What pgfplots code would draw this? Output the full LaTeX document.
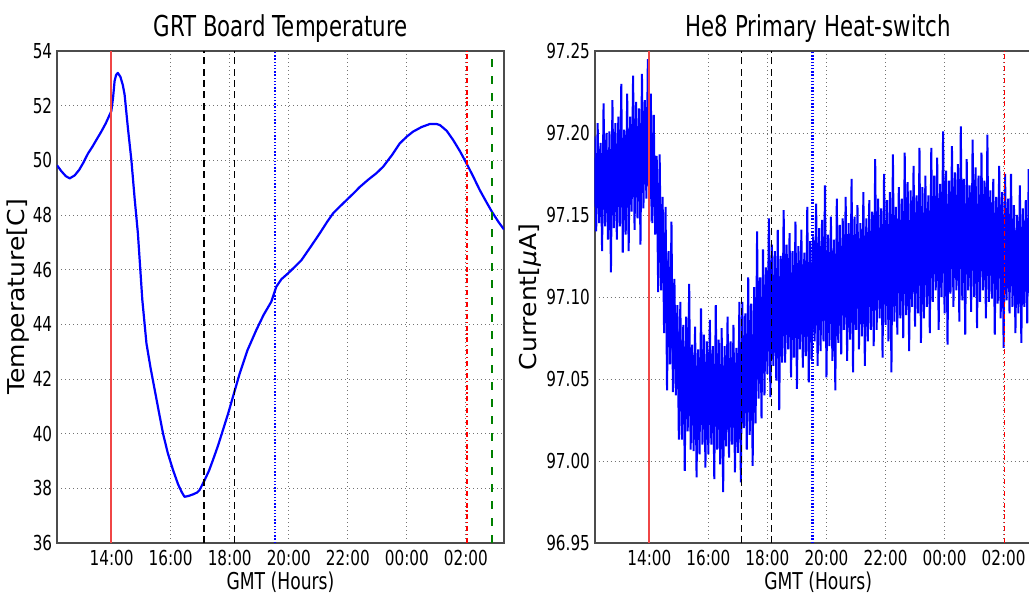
\documentclass[border=0pt]{standalone}
\usepackage{fontspec}
\setmainfont[FakeStretch=0.74]{DejaVu Sans}
\newfontfamily\ylabfont[FakeStretch=1.08]{DejaVu Sans}
\usepackage{pgfplots}
\pgfplotsset{compat=1.18}

\definecolor{eventgreen}{RGB}{0,128,0}
\definecolor{eventred}{RGB}{240,70,70}

\pgfplotsset{
  panel/.style={
    set layers,
    scale only axis, width=223.5pt, height=246pt,
    xmin=12.15, xmax=27.29,
    xtick={14,16,18,20,22,24,26},
    xticklabels={14:00,16:00,18:00,20:00,22:00,00:00,02:00},
    grid=major,
    major grid style={draw=black!55, line width=0.5pt, dash pattern=on 0.6pt off 1.4pt},
    major tick length=0pt,
    axis line style={draw=black!70, line width=1pt},
    /pgf/number format/assume math mode=true,
    tick label style={font=\fontsize{10.3}{12}\selectfont, text=black},
    xticklabel style={inner sep=0pt, anchor=north, yshift=-3.5pt},
    yticklabel style={inner sep=0pt, anchor=east, xshift=-2.2pt},
    every axis title/.style={at={(axis description cs:0.5,1.0285)}, anchor=base,
                 inner sep=0pt, font=\fontsize{14.4}{17}\selectfont},
    xlabel style={at={(axis description cs:0.5,-0.0955)}, anchor=base, inner sep=0pt,
                  font=\fontsize{11.6}{14}\selectfont},
    ylabel style={anchor=center, inner sep=0pt, font=\ylabfont\fontsize{11.6}{14}\selectfont},
    xlabel={GMT (Hours)},
  },
  black event/.style={draw=black, line width=0.55pt, dash pattern=on 3.5pt off 2.2pt, forget plot},
  red event/.style={draw=eventred, line width=0.9pt, forget plot, on layer=axis foreground},
}

\begin{document}
\begin{tikzpicture}

% ---------------- GRT board temperature ----------------
\begin{axis}[panel, at={(28.5pt,26pt)}, anchor=south west,
  ymin=36, ymax=54, ytick={36,38,...,54},
  title={GRT Board Temperature},
  ylabel={Temperature[C]},
  ylabel style={at={(axis description cs:-0.0861,0.5)}},
]
\addplot[blue, line width=1.1pt, line join=round] coordinates {
 (12.15,49.82) (12.3,49.6) (12.45,49.42) (12.58,49.34) (12.75,49.45)
 (12.9,49.65) (13.03,49.89) (13.2,50.25) (13.35,50.5) (13.48,50.74)
 (13.65,51.05) (13.8,51.35) (13.99,51.8) (14.05,52.3) (14.1,52.9)
 (14.15,53.12) (14.21,53.2) (14.3,53.05) (14.38,52.75) (14.44,52.4)
 (14.55,51.2) (14.67,50.0) (14.78,48.6) (14.89,47.33) (15.04,44.89)
 (15.18,43.3) (15.32,42.4) (15.46,41.6) (15.6,40.8) (15.74,40.01)
 (15.9,39.3) (16.08,38.67) (16.25,38.15) (16.38,37.85) (16.47,37.69)
 (16.6,37.72) (16.76,37.78) (16.9,37.85) (16.98,37.94) (17.15,38.3)
 (17.3,38.65) (17.43,39.03) (17.6,39.55) (17.77,40.13) (17.95,40.75)
 (18.11,41.35) (18.34,42.21) (18.6,43.05) (18.9,43.79) (19.15,44.35)
 (19.41,44.83) (19.58,45.38) (19.75,45.65) (19.98,45.87) (20.2,46.1)
 (20.43,46.35) (20.75,46.85) (21.05,47.33) (21.3,47.75) (21.5,48.06)
 (21.75,48.33) (21.96,48.55) (22.2,48.8) (22.41,49.03) (22.7,49.3)
 (22.97,49.53) (23.2,49.77) (23.5,50.2) (23.76,50.62) (24.0,50.87)
 (24.21,51.05) (24.5,51.22) (24.78,51.33) (25.0,51.33) (25.12,51.29)
 (25.35,51.08) (25.57,50.74) (25.8,50.33) (26.02,49.89) (26.25,49.4)
 (26.47,48.91) (26.68,48.5) (26.88,48.12) (27.1,47.75) (27.29,47.47)
};
% event markers
\addplot[black event] coordinates {(17.13,36) (17.13,54)};
\addplot[black event] coordinates {(18.15,36) (18.15,54)};
\addplot[draw=blue, line width=1.1pt, dash pattern=on 0.7pt off 0.9pt, forget plot] coordinates {(19.53,36) (19.53,54)};
\addplot[draw=red, line width=0.9pt, dash pattern=on 2.5pt off 1.4pt on 0.6pt off 1.4pt, forget plot] coordinates {(26.03,36) (26.03,54)};
\addplot[draw=eventgreen, line width=1pt, dash pattern=on 4pt off 4.5pt, forget plot] coordinates {(26.88,36) (26.88,54)};
\addplot[red event] coordinates {(13.99,36) (13.99,54)};
\end{axis}

% ---------------- He8 primary heat-switch current ----------------
\begin{axis}[panel, at={(297.35pt,26pt)}, anchor=south west,
  ymin=96.95, ymax=97.25, ytick={96.95,97.00,...,97.26},
  yticklabel style={/pgf/number format/.cd, fixed, fixed zerofill, precision=2},
  title={He8 Primary Heat-switch},
  ylabel={Current[{\itshape μ}A]},
  ylabel style={at={(axis description cs:-0.1445,0.5)}},
]
% dense core of the noisy trace
\addplot[fill=blue, draw=none] coordinates {
 (12.15,97.185) (12.6,97.185) (13.0,97.189) (13.4,97.200) (13.8,97.208)
 (14.05,97.208) (14.2,97.181) (14.4,97.155) (14.6,97.124) (14.8,97.098)
 (15.0,97.078) (15.25,97.066) (15.6,97.058) (17.05,97.058) (17.15,97.076)
 (17.5,97.076) (17.65,97.091) (17.85,97.101) (18.0,97.107) (18.3,97.112)
 (19.0,97.116) (20.0,97.124) (21.0,97.132) (22.0,97.140) (23.0,97.148)
 (24.0,97.157) (25.2,97.157) (25.9,97.149) (26.5,97.139) (27.3,97.139)
 (27.3,97.105) (26.5,97.105) (25.9,97.111) (25.2,97.117) (24.0,97.117)
 (23.0,97.108) (22.0,97.100) (21.0,97.093) (20.0,97.086) (19.0,97.080)
 (18.3,97.074) (18.0,97.069) (17.85,97.059) (17.65,97.049) (17.5,97.034)
 (17.15,97.034) (17.05,97.022) (15.6,97.022) (15.25,97.030) (15.0,97.042)
 (14.8,97.062) (14.6,97.086) (14.4,97.119) (14.2,97.148) (14.05,97.172)
 (13.8,97.172) (13.4,97.164) (13.0,97.155) (12.6,97.155) (12.15,97.155)
};
% excursions of the trace
\addplot[blue, line width=1pt] table {
x y
12.15 97.198
12.20 97.140
12.25 97.206
12.30 97.145
12.35 97.194
12.40 97.128
12.45 97.218
12.50 97.143
12.55 97.200
12.60 97.135
12.65 97.201
12.70 97.115
12.75 97.220
12.80 97.142
12.85 97.206
12.90 97.135
12.95 97.210
13.00 97.143
13.05 97.230
13.10 97.127
13.15 97.202
13.20 97.138
13.25 97.224
13.30 97.128
13.35 97.210
13.40 97.152
13.45 97.235
13.50 97.141
13.55 97.219
13.60 97.148
13.65 97.215
13.70 97.132
13.75 97.236
13.80 97.154
13.85 97.220
13.90 97.160
13.95 97.245
14.00 97.146
14.05 97.224
14.10 97.145
14.15 97.211
14.20 97.138
14.25 97.186
14.30 97.103
14.35 97.187
14.40 97.104
14.45 97.161
14.50 97.078
14.55 97.155
14.60 97.043
14.65 97.128
14.70 97.059
14.75 97.146
14.80 97.042
14.85 97.111
14.90 97.040
14.95 97.095
15.00 97.013
15.05 97.097
15.10 97.013
15.15 97.083
15.20 96.994
15.25 97.088
15.30 97.018
15.35 97.108
15.40 97.007
15.45 97.071
15.50 97.006
15.55 97.082
15.60 96.990
15.65 97.068
15.70 97.004
15.75 97.093
15.80 97.010
15.85 97.077
15.90 96.996
15.95 97.073
16.00 97.004
16.05 97.086
16.10 97.010
16.15 97.070
16.20 96.989
16.25 97.095
16.30 97.007
16.35 97.074
16.40 96.998
16.45 97.081
16.50 96.981
16.55 97.070
16.60 97.009
16.65 97.088
16.70 97.002
16.75 97.073
16.80 97.010
16.85 97.083
16.90 96.993
16.95 97.069
17.00 97.005
17.05 97.097
17.10 96.987
17.15 97.097
17.20 97.020
17.25 97.090
17.30 97.007
17.35 97.112
17.40 97.016
17.45 97.096
17.50 96.997
17.55 97.106
17.60 97.023
17.65 97.140
17.70 97.038
17.75 97.112
17.80 97.026
17.85 97.129
17.90 97.040
17.95 97.118
18.00 97.053
18.05 97.148
18.10 97.039
18.15 97.132
18.20 97.058
18.25 97.128
18.30 97.049
18.35 97.141
18.40 97.031
18.45 97.125
18.50 97.060
18.55 97.153
18.60 97.060
18.65 97.132
18.70 97.068
18.75 97.139
18.80 97.051
18.85 97.128
18.90 97.063
18.95 97.146
19.00 97.044
19.05 97.131
19.10 97.068
19.15 97.141
19.20 97.057
19.25 97.127
19.30 97.064
19.35 97.155
19.40 97.048
19.45 97.134
19.50 97.062
19.55 97.137
19.60 97.073
19.65 97.157
19.70 97.058
19.75 97.142
19.80 97.067
19.85 97.147
19.90 97.073
19.95 97.168
20.00 97.051
20.05 97.138
20.10 97.070
20.15 97.149
20.20 97.061
20.25 97.135
20.30 97.043
20.35 97.160
20.40 97.072
20.45 97.144
20.50 97.065
20.55 97.148
20.60 97.080
20.65 97.161
20.70 97.061
20.75 97.145
20.80 97.074
20.85 97.172
20.90 97.054
20.95 97.149
21.00 97.080
21.05 97.156
21.10 97.068
21.15 97.145
21.20 97.076
21.25 97.164
21.30 97.058
21.35 97.148
21.40 97.073
21.45 97.159
21.50 97.080
21.55 97.152
21.60 97.070
21.65 97.184
21.70 97.080
21.75 97.160
21.80 97.087
21.85 97.154
21.90 97.063
21.95 97.175
22.00 97.083
22.05 97.159
22.10 97.073
22.15 97.164
22.20 97.054
22.25 97.187
22.30 97.085
22.35 97.155
22.40 97.077
22.45 97.167
22.50 97.087
22.55 97.160
22.60 97.075
22.65 97.188
22.70 97.089
22.75 97.170
22.80 97.067
22.85 97.165
22.90 97.094
22.95 97.180
23.00 97.082
23.05 97.162
23.10 97.090
23.15 97.191
23.20 97.072
23.25 97.167
23.30 97.087
23.35 97.174
23.40 97.094
23.45 97.162
23.50 97.078
23.55 97.191
23.60 97.097
23.65 97.174
23.70 97.104
23.75 97.185
23.80 97.080
23.85 97.169
23.90 97.100
23.95 97.201
24.00 97.090
24.05 97.177
24.10 97.071
24.15 97.171
24.20 97.102
24.25 97.192
24.30 97.094
24.35 97.176
24.40 97.104
24.45 97.181
24.50 97.085
24.55 97.204
24.60 97.098
24.65 97.172
24.70 97.077
24.75 97.184
24.80 97.104
24.85 97.168
24.90 97.091
24.95 97.196
25.00 97.100
25.05 97.179
25.10 97.081
25.15 97.174
25.20 97.097
25.25 97.188
25.30 97.104
25.35 97.171
25.40 97.087
25.45 97.199
25.50 97.097
25.55 97.165
25.60 97.099
25.65 97.172
25.70 97.077
25.75 97.161
25.80 97.096
25.85 97.180
25.90 97.087
25.95 97.164
26.00 97.069
26.05 97.175
26.10 97.098
26.15 97.160
26.20 97.090
26.25 97.175
26.30 97.094
26.35 97.156
26.40 97.078
26.45 97.150
26.50 97.090
26.55 97.168
26.60 97.072
26.65 97.154
26.70 97.094
26.75 97.159
26.80 97.084
26.85 97.178
26.90 97.091
26.95 97.151
27.00 97.076
27.05 97.161
27.10 97.088
27.15 97.148
27.20 97.094
27.25 97.171
27.30 97.081
};
% event markers
\addplot[black event] coordinates {(17.13,96.95) (17.13,97.25)};
\addplot[black event] coordinates {(18.15,96.95) (18.15,97.25)};
\addplot[draw=blue, line width=1.1pt, dash pattern=on 0.7pt off 0.9pt, forget plot] coordinates {(19.53,96.95) (19.53,97.25)};
\addplot[draw=red, line width=0.9pt, dash pattern=on 2.5pt off 1.4pt on 0.6pt off 1.4pt, forget plot] coordinates {(26.03,96.95) (26.03,97.25)};
\addplot[draw=eventgreen, line width=1pt, dash pattern=on 4pt off 4.5pt, forget plot] coordinates {(26.88,96.95) (26.88,97.25)};
\addplot[red event] coordinates {(13.99,96.95) (13.99,97.25)};
\end{axis}

\pgfresetboundingbox
\path[use as bounding box] (0pt,0pt) rectangle (514.5pt,297.5pt);
\end{tikzpicture}
\end{document}
